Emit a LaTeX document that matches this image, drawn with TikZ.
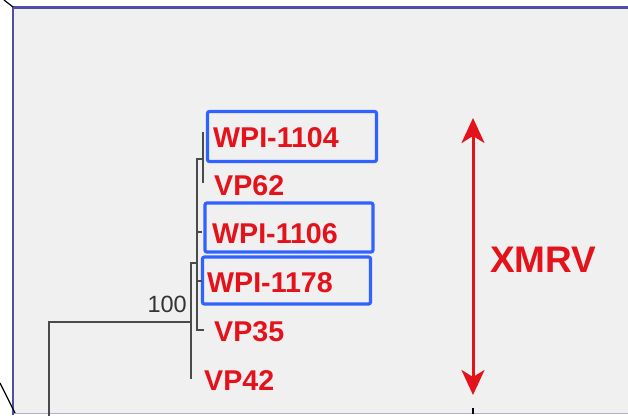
\documentclass[tikz,border=0pt]{standalone}
\usepackage{fontspec}
\setmainfont{Liberation Sans}
\usetikzlibrary{arrows.meta}
\definecolor{panelbg}{HTML}{F0F0F0}
\definecolor{frameblue}{HTML}{4F4FA6}
\definecolor{labelred}{HTML}{E3121B}
\definecolor{boxblue}{HTML}{2F62FF}
\definecolor{branch}{HTML}{4A4A4A}
\definecolor{supportgray}{HTML}{333333}
\begin{document}
\begin{tikzpicture}[x=1pt,y=-1pt,
  taxon/.style={text=labelred, font=\fontsize{28.6}{30}\selectfont\bfseries, inner sep=0pt, anchor=base west},
  hlbox/.style={draw=boxblue, line width=3.2pt, rounded corners=2pt, inner sep=0pt},
  branchline/.style={draw=branch, line width=1.9pt, line cap=rect},
  support/.style={text=supportgray, font=\fontsize{23.5}{25}\selectfont, inner sep=0pt, anchor=base east},
  clade/.style={text=labelred, font=\fontsize{37}{40}\selectfont\bfseries, inner sep=0pt, anchor=base west},
  span/.style={draw=labelred, line width=3pt,
    {Stealth[length=25pt,width=23pt,inset=7pt]}-{Stealth[length=25pt,width=23pt,inset=7pt]}}]
\useasboundingbox (0,0) rectangle (628,415);
\fill[white] (0,0) rectangle (628,415);

% panel background and frame
\fill[panelbg] (13,8) rectangle (628,413);
\draw[frameblue!45, line width=1pt] (13,413.5) -- (628,413.5);
\draw[frameblue, line width=2.8pt] (13,415) -- (13,7.5) -- (628,7.5);
\draw[black, line width=1.2pt] (4,0) -- (13,7);
\draw[black, line width=1.2pt] (0,383) -- (15,413);

% highlight boxes
\node[hlbox, minimum width=169pt, minimum height=50pt] (box1104) at (292,136.5) {};
\node[hlbox, minimum width=168pt, minimum height=49pt] (box1106) at (289,227.5) {};
\node[hlbox, minimum width=168pt, minimum height=47pt] (box1178) at (286.5,280.5) {};

% taxon labels
\node[taxon] (t1104) at (213,147) {WPI-1104};
\node[taxon] (t62)   at (214,195) {VP62};
\node[taxon] (t1106) at (212,243) {WPI-1106};
\node[taxon] (t1178) at (207,292) {WPI-1178};
\node[taxon] (t35)   at (214,341) {VP35};
\node[taxon] (t42)   at (204,390) {VP42};

% tree coordinates
\coordinate (root)  at (49,322);
\coordinate (rootb) at (49,416);
\coordinate (nA)    at (191,322);
\coordinate (nAtop) at (191,263);
\coordinate (l42)   at (191,378);
\coordinate (nB)    at (197,263);
\coordinate (nBtop) at (197,159);
\coordinate (nBbot) at (197,330);
\coordinate (l35)   at (203,330);
\coordinate (b1106) at (197,232);
\coordinate (l1106) at (201,232);
\coordinate (b1178) at (197,281);
\coordinate (l1178) at (201,281);
\coordinate (nC)    at (203,159);
\coordinate (l1104) at (203,133);
\coordinate (l62)   at (203,182);

% branches
\draw[branchline] (rootb) -- (root) -- (nA);
\draw[branchline] (nAtop) -- (l42);
\draw[branchline] (nAtop) -- (nB);
\draw[branchline] (nBtop) -- (nBbot) -- (l35);
\draw[branchline] (b1106) -- (l1106);
\draw[branchline] (b1178) -- (l1178);
\draw[branchline] (nBtop) -- (nC);
\draw[branchline] (l1104) -- (l62);

% bootstrap support
\node[support] (s100) at (187,312) {100};

% clade span
\coordinate (spantop) at (473,118);
\coordinate (spanbot) at (473,395);
\draw[span] (spantop) -- (spanbot);
\node[clade] (xmrv) at (490,272) {XMRV};

% mark on the lower edge
\coordinate (tickA) at (473,408);
\coordinate (tickB) at (473,414);
\draw[black, line width=2pt] (tickA) -- (tickB);
\end{tikzpicture}
\end{document}
